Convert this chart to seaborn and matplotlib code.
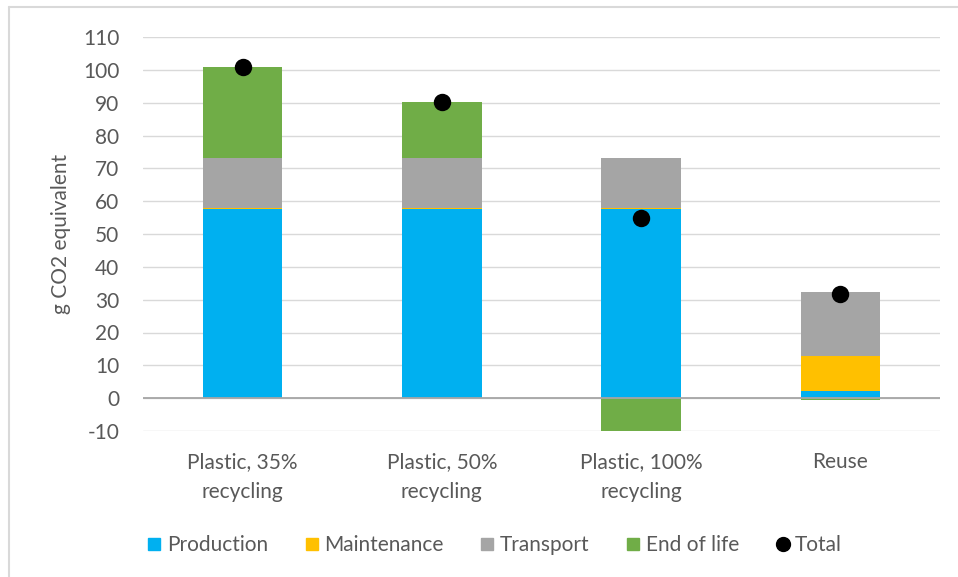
import numpy as np
import pandas as pd
import matplotlib.pyplot as plt
from matplotlib.lines import Line2D
import seaborn as sns

# chart values
categories = ["Plastic, 35%\nrecycling", "Plastic, 50%\nrecycling",
              "Plastic, 100%\nrecycling", "Reuse"]
production = [57.5, 57.5, 57.5, 2.2]
maintenance = [0.4, 0.4, 0.4, 10.6]
transport = [15.3, 15.3, 15.3, 19.5]
end_of_life = [27.7, 17.0, -10.6, -0.7]
total = [101.0, 90.3, 54.8, 31.6]

series_names = ["Production", "Maintenance", "Transport", "End of life"]
colors = ["#00B0F0", "#FFC000", "#A5A5A5", "#70AD47"]
text_color = "#595959"

sns.set_theme(style="white")
plt.rcParams["font.family"] = ["Lato", "DejaVu Sans"]
plt.rcParams["axes.unicode_minus"] = False

df = pd.DataFrame({"category": categories, "Production": production,
                   "Maintenance": maintenance, "Transport": transport,
                   "End of life": end_of_life, "Total": total})

fig = plt.figure(figsize=(9.58, 5.77), dpi=100)
ax = fig.add_axes([143 / 958, 146 / 577, 797 / 958, 394 / 577])

# positive parts stack upward, negative parts go down from zero (Excel style)
pos = df[series_names].clip(lower=0).cumsum(axis=1)
neg = df[series_names].clip(upper=0)

# draw cumulative tops from the highest layer down so lower layers cover them
for name, col in reversed(list(zip(series_names, colors))):
    sns.barplot(x=df["category"], y=pos[name], color=col, width=0.4,
                saturation=1, linewidth=0, ax=ax, zorder=2)
sns.barplot(x=df["category"], y=neg["End of life"], color=colors[3], width=0.4,
            saturation=1, linewidth=0, ax=ax, zorder=2)

sns.pointplot(x=df["category"], y=df["Total"], color="black", linestyle="none",
              markers="o", markersize=10.5, errorbar=None, ax=ax, zorder=4)

ax.set_ylim(-10, 110)
ax.set_yticks(np.arange(-10, 111, 10))
ax.yaxis.grid(True, color="#D9D9D9", linewidth=1, zorder=0)
ax.set_axisbelow(True)
ax.axhline(0, color="#A6A6A6", linewidth=1.3, zorder=3)
for s in ax.spines.values():
    s.set_visible(False)

ax.set_xlabel("")
ax.set_ylabel("g CO2 equivalent", fontsize=15, color=text_color, labelpad=9)
ax.tick_params(axis="both", length=0, labelsize=15, labelcolor=text_color)
ax.tick_params(axis="x", pad=15)
ax.tick_params(axis="y", pad=17)
for lbl in ax.get_xticklabels():
    lbl.set_linespacing(1.65)

handles = [Line2D([], [], marker="s", linestyle="none", markersize=8,
                  markerfacecolor=c, markeredgecolor=c) for c in colors]
handles.append(Line2D([], [], marker="o", linestyle="none", markersize=10,
                      markerfacecolor="black", markeredgecolor="black"))
fig.legend(handles, series_names + ["Total"], loc="center",
           bbox_to_anchor=(493 / 958, 1 - 545 / 577), ncol=5, frameon=False,
           fontsize=15, labelcolor=text_color, handletextpad=0.1,
           columnspacing=1.6, handlelength=1.0)

# chart area border (cut off at right and bottom in the reference)
fig.add_artist(Line2D([9 / 958, 9 / 958], [0, 1 - 7 / 577], color="#D9D9D9",
                      linewidth=1.5, transform=fig.transFigure))
fig.add_artist(Line2D([9 / 958, 1], [1 - 7 / 577, 1 - 7 / 577], color="#D9D9D9",
                      linewidth=1.5, transform=fig.transFigure))

fig.savefig("out.png", dpi=100)
